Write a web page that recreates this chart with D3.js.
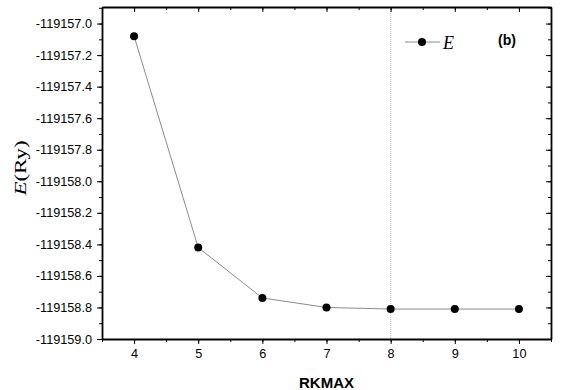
<!DOCTYPE html>
<meta charset="utf-8">
<style>
    body { margin: 0; background: #fff; }
    .axis text { font-family: "Liberation Sans", Arial, sans-serif; font-size: 12.7px; fill: #000; }
    .axis path, .axis line { stroke: #000; }
    .dataLine { fill: none; stroke: #8a8a8a; stroke-width: 1px; }
    .refLine { stroke: #bbb; stroke-width: 1px; stroke-dasharray: 1,1; }
</style>
<body>
    <script src="https://d3js.org/d3.v7.min.js"></script>
    <script>

        // data
        var rkmax = [4, 5, 6, 7, 8, 9, 10];
        var energy = [-119157.08, -119158.42, -119158.74, -119158.80, -119158.81, -119158.81, -119158.81];
        var xTicks = [4, 5, 6, 7, 8, 9, 10];
        var yTicks = [-119157.0, -119157.2, -119157.4, -119157.6, -119157.8, -119158.0,
                      -119158.2, -119158.4, -119158.6, -119158.8, -119159.0];

        var margin = {top: 7, right: 10, bottom: 51, left: 102},
            width = 561 - margin.left - margin.right,
            height = 390 - margin.top - margin.bottom;

        var x = d3.scaleLinear().domain([3.5, 10.5]).range([0, width]);
        var y = d3.scaleLinear().domain([-119159.0, -119156.895]).range([height, 0]);

        var svg = d3.select("body").append("svg")
            .attr("width", 561)
            .attr("height", 390)
            .append("g")
            .attr("transform", "translate(" + margin.left + "," + margin.top + ")");

        var minorX = d3.range(3.5, 10.51, 0.5);
        var minorY = d3.range(0, 22).map(function(i) { return -119159.0 + i * 0.1; })
            .filter(function(v) { return v <= -119156.895; });

        // vertical reference line at RKMAX = 8
        svg.append("line")
            .attr("class", "refLine")
            .attr("x1", x(8)).attr("x2", x(8))
            .attr("y1", 0).attr("y2", height);

        // minor ticks
        svg.append("g").attr("class", "axis")
            .attr("transform", "translate(0," + height + ")")
            .call(d3.axisBottom(x).tickValues(minorX).tickSize(3).tickFormat(""))
            .select(".domain").remove();
        svg.append("g").attr("class", "axis")
            .call(d3.axisTop(x).tickValues(minorX).tickSize(-3).tickFormat(""))
            .select(".domain").remove();
        svg.append("g").attr("class", "axis")
            .call(d3.axisLeft(y).tickValues(minorY).tickSize(3).tickFormat(""))
            .select(".domain").remove();
        svg.append("g").attr("class", "axis")
            .attr("transform", "translate(" + width + ",0)")
            .call(d3.axisRight(y).tickValues(minorY).tickSize(-3).tickFormat(""))
            .select(".domain").remove();

        // major axes
        svg.append("g").attr("class", "axis")
            .attr("transform", "translate(0," + height + ")")
            .call(d3.axisBottom(x).tickValues(xTicks).tickSize(5).tickPadding(5).tickSizeOuter(0).tickFormat(d3.format("d")));
        svg.append("g").attr("class", "axis")
            .call(d3.axisLeft(y).tickValues(yTicks).tickSize(5).tickPadding(5).tickSizeOuter(0).tickFormat(d3.format(".1f")));
        svg.append("g").attr("class", "axis")
            .call(d3.axisTop(x).tickValues(xTicks).tickSize(-5).tickSizeOuter(0).tickFormat(""));
        svg.append("g").attr("class", "axis")
            .attr("transform", "translate(" + width + ",0)")
            .call(d3.axisRight(y).tickValues(yTicks).tickSize(-5).tickSizeOuter(0).tickFormat(""));

        svg.selectAll(".axis .domain").attr("stroke-width", 1.8);

        // use a plain hyphen like the original
        svg.selectAll(".axis text").text(function() { return this.textContent.replace("\u2212", "-"); });

        var data = rkmax.map(function(r, i) { return {r: r, e: energy[i]}; });

        var line = d3.line()
            .x(function(d) { return x(d.r); })
            .y(function(d) { return y(d.e); });

        svg.append("path")
            .datum(data)
            .attr("class", "dataLine")
            .attr("d", line);

        svg.selectAll(".dot")
            .data(data)
            .enter().append("circle")
            .attr("class", "dot")
            .attr("cx", function(d) { return x(d.r); })
            .attr("cy", function(d) { return y(d.e); })
            .attr("r", 4)
            .attr("fill", "#000");

        // legend
        var lg = svg.append("g").attr("transform", "translate(" + (405 - margin.left) + "," + (42 - margin.top) + ")");
        lg.append("line").attr("class", "dataLine").attr("x1", 0).attr("x2", 35).attr("y1", 0).attr("y2", 0);
        lg.append("circle").attr("cx", 17).attr("cy", 0).attr("r", 4).attr("fill", "#000");
        lg.append("text").attr("x", 38).attr("y", 7)
            .style("font-family", "'Liberation Serif', 'DejaVu Serif', serif")
            .style("font-style", "italic").style("font-size", "18px")
            .text("E");

        svg.append("text")
            .attr("x", 498 - margin.left).attr("y", 45 - margin.top)
            .style("font-family", "'Liberation Sans', Arial, sans-serif")
            .style("font-weight", "bold").style("font-size", "14px")
            .text("(b)");

        // axis titles
        svg.append("text")
            .attr("x", width / 2).attr("y", 388 - margin.top)
            .attr("text-anchor", "middle")
            .style("font-family", "'Liberation Sans', Arial, sans-serif")
            .style("font-weight", "bold").style("font-size", "15px")
            .text("RKMAX");

        // the original label is stretched along its length
        var yl = svg.append("text")
            .attr("transform", "translate(" + (26 - margin.left) + "," + (168 - margin.top) + ") rotate(-90) scale(1.35,1)")
            .attr("text-anchor", "middle")
            .style("font-family", "'Liberation Serif', 'DejaVu Serif', serif")
            .style("font-size", "17px");
        yl.append("tspan").style("font-style", "italic").text("E");
        yl.append("tspan").text("(Ry)");

    </script>
</body>
